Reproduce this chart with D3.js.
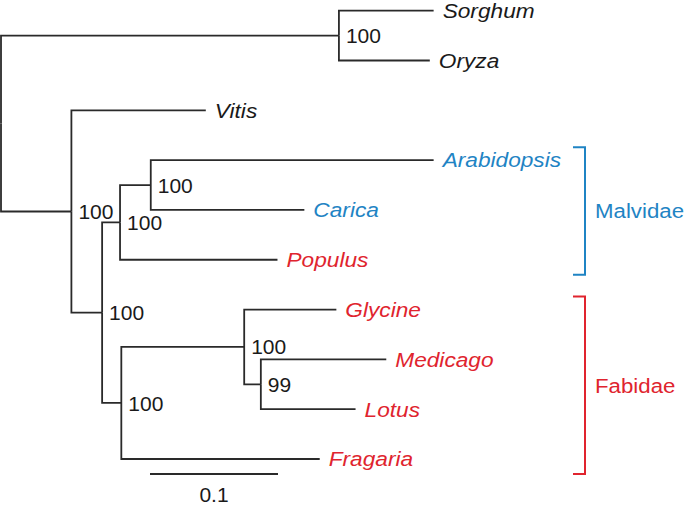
<!DOCTYPE html>
<html>
<head>
<meta charset="utf-8">
<script src="https://cdn.jsdelivr.net/npm/d3@7"></script>
<style>
  html, body { margin: 0; padding: 0; background: #fff; }
  svg { display: block; }
  text { font-family: "Liberation Sans", Arial, Helvetica, sans-serif; }
</style>
</head>
<body>
<svg id="chart" width="685" height="505"></svg>
<script>
// ---- data ----
const nodeIds = ["root", "monocots", "Sorghum", "Oryza", "eudicots", "Vitis", "rosids", "malvids", "ac",
  "Arabidopsis", "Carica", "Populus", "fabids", "legumes", "Glycine", "ml", "Medicago", "Lotus", "Fragaria"];
const parentIds = ["", "root", "monocots", "monocots", "root", "eudicots", "eudicots", "rosids", "malvids",
  "ac", "ac", "malvids", "rosids", "fabids", "legumes", "legumes", "ml", "ml", "fabids"];
const branchLengths = [0, 0.264, 0.074, 0.071, 0.055, 0.105, 0.024, 0.014, 0.024,
  0.221, 0.120, 0.123, 0.015, 0.096, 0.072, 0.013, 0.098, 0.074, 0.155];
const bootstrap = [null, 100, null, null, 100, null, 100, 100, 100,
  null, null, null, 100, 100, null, 99, null, null, null];
const tipGroup = { Sorghum: "none", Oryza: "none", Vitis: "none", Arabidopsis: "blue", Carica: "blue",
  Populus: "red", Glycine: "red", Medicago: "red", Lotus: "red", Fragaria: "red" };
const cladeNames = ["Malvidae", "Fabidae"];
const cladeFirst = ["Arabidopsis", "Glycine"];
const cladeLast = ["Populus", "Fragaria"];
const cladeGroup = ["blue", "red"];
const scaleBarValue = 0.1;
const scaleBarLabel = "0.1";

// ---- styles ----
const colors = { none: "#1a1a1a", blue: "#1f84c4", red: "#e0242e" };
const lineColor = "#2a2a2a";

const svg = d3.select("#chart");

const table = nodeIds.map((id, i) => ({ id, parent: parentIds[i], length: branchLengths[i], boot: bootstrap[i] }));
const root = d3.stratify().id(d => d.id).parentId(d => d.parent || null)(table);

// cumulative distance
root.each(n => { n.dist = n.parent ? n.parent.dist + n.data.length : 0; });

const leaves = root.leaves();
const y = d3.scalePoint().domain(leaves.map(d => d.id)).range([10.7, 459]);
const x = d3.scaleLinear().domain([0, 0.35]).range([1, 1 + 0.35 * 1280]);

leaves.forEach(l => { l.py = y(l.id); });
root.eachAfter(n => {
  if (n.children) n.py = (n.children[0].py + n.children[n.children.length - 1].py) / 2;
  n.px = x(n.dist);
});

// branches
svg.append("g")
  .selectAll("path")
  .data(root.descendants().filter(d => d.parent))
  .join("path")
  .attr("d", d => `M${d.parent.px},${d.parent.py}V${d.py}H${d.px}`)
  .attr("fill", "none")
  .attr("stroke", lineColor)
  .attr("stroke-width", 1.8);

// tip labels
svg.append("g")
  .selectAll("text")
  .data(leaves)
  .join("text")
  .attr("transform", d => `translate(${d.px + 9},${d.py}) scale(1.08,1)`)
  .attr("dy", "0.35em")
  .attr("font-size", 21)
  .attr("font-style", "italic")
  .attr("fill", d => colors[tipGroup[d.id]])
  .text(d => d.id);

// bootstrap labels
svg.append("g")
  .selectAll("text")
  .data(root.descendants().filter(d => d.data.boot != null))
  .join("text")
  .attr("x", d => d.px + 7)
  .attr("y", d => d.py)
  .attr("dy", "0.36em")
  .attr("font-size", 21)
  .attr("fill", "#1a1a1a")
  .text(d => d.data.boot);

// clade brackets
const brackets = svg.append("g");
cladeNames.forEach((name, i) => {
  const y0 = y(cladeFirst[i]) - 13;
  const y1 = y(cladeLast[i]) + 15;
  const bx = 585;
  const col = colors[cladeGroup[i]];
  brackets.append("path")
    .attr("d", `M${bx - 12},${y0}H${bx}V${y1}H${bx - 12}`)
    .attr("fill", "none")
    .attr("stroke", col)
    .attr("stroke-width", 2);
  brackets.append("text")
    .attr("transform", `translate(${bx + 10},${(y0 + y1) / 2}) scale(1.06,1)`)
    .attr("dy", "0.35em")
    .attr("font-size", 21)
    .attr("fill", col)
    .text(name);
});

// scale bar
const barX0 = 150, barY = 474;
const barLen = x(scaleBarValue) - x(0);
svg.append("line")
  .attr("x1", barX0).attr("x2", barX0 + barLen)
  .attr("y1", barY).attr("y2", barY)
  .attr("stroke", lineColor)
  .attr("stroke-width", 1.8);
svg.append("text")
  .attr("x", barX0 + barLen / 2)
  .attr("y", barY + 20)
  .attr("dy", "0.36em")
  .attr("text-anchor", "middle")
  .attr("font-size", 21)
  .attr("fill", "#1a1a1a")
  .text(scaleBarLabel);
</script>
</body>
</html>
